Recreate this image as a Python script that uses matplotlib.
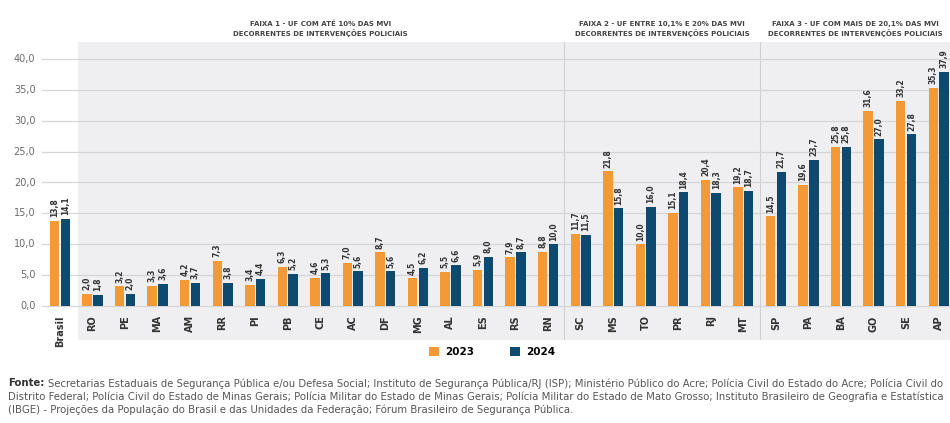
import matplotlib
matplotlib.use('Agg')
import matplotlib.pyplot as plt
import numpy as np

# Estados e valores (% das MVI decorrentes de intervenções policiais)
ufs = ['Brasil', 'RO', 'PE', 'MA', 'AM', 'RR', 'PI', 'PB', 'CE', 'AC', 'DF', 'MG', 'AL', 'ES',
       'RS', 'RN', 'SC', 'MS', 'TO', 'PR', 'RJ', 'MT', 'SP', 'PA', 'BA', 'GO', 'SE', 'AP']
v2023 = [13.8, 2.0, 3.2, 3.3, 4.2, 7.3, 3.4, 6.3, 4.6, 7.0, 8.7, 4.5, 5.5, 5.9,
         7.9, 8.8, 11.7, 21.8, 10.0, 15.1, 20.4, 19.2, 14.5, 19.6, 25.8, 31.6, 33.2, 35.3]
v2024 = [14.1, 1.8, 2.0, 3.6, 3.7, 3.8, 4.4, 5.2, 5.3, 5.6, 5.6, 6.2, 6.6, 8.0,
         8.7, 10.0, 11.5, 15.8, 16.0, 18.4, 18.3, 18.7, 21.7, 23.7, 25.8, 27.0, 27.8, 37.9]
yticks = [0, 5, 10, 15, 20, 25, 30, 35, 40]
faixas = ['FAIXA 1 - UF COM ATÉ 10% DAS MVI\nDECORRENTES DE INTERVENÇÕES POLICIAIS',
          'FAIXA 2 - UF ENTRE 10,1% E 20% DAS MVI\nDECORRENTES DE INTERVENÇÕES POLICIAIS',
          'FAIXA 3 - UF COM MAIS DE 20,1% DAS MVI\nDECORRENTES DE INTERVENÇÕES POLICIAIS']
fonte = ['Secretarias Estaduais de Segurança Pública e/ou Defesa Social; Instituto de Segurança Pública/RJ (ISP); '
         'Ministério Público do Acre; Polícia Civil do Estado do Acre; Polícia Civil do',
         'Distrito Federal; Polícia Civil do Estado de Minas Gerais; Polícia Militar do Estado de Minas Gerais; '
         'Polícia Militar do Estado de Mato Grosso; Instituto Brasileiro de Geografia e Estatística',
         '(IBGE) - Projeções da População do Brasil e das Unidades da Federação; Fórum Brasileiro de Segurança Pública.']

orange = '#F39A36'
navy = '#0E4A6F'
grey_txt = '#6B6B6B'

plt.rcParams['font.family'] = ['Liberation Sans Narrow', 'DejaVu Sans']

fig = plt.figure(figsize=(9.5, 4.23), dpi=100)
ax = fig.add_axes([42 / 950, 1 - 340 / 423, 1 - 42 / 950, 298 / 423])

x = np.arange(len(ufs))
w = 0.29
ax.set_xlim(-0.55, 27.35)
ax.set_ylim(-34 / 6.175, 40 + 17 / 6.175)

# fundo cinza das faixas
ax.axvspan(0.55, 27.35, color='#EFEFF1', zorder=0, lw=0)
for xd in [15.5, 21.5]:
    ax.axvline(xd, color='#D0D0D4', lw=0.8, zorder=1)

for yt in yticks:
    ax.axhline(yt, color='#D6D6D8', lw=0.9, zorder=1)
    ax.text(-0.75, yt, f'{yt:.1f}'.replace('.', ','), ha='right', va='center',
            fontsize=7, color=grey_txt, clip_on=False)

ax.bar(x - 0.165, v2023, w, color=orange, zorder=3, label='2023')
ax.bar(x + 0.165, v2024, w, color=navy, zorder=3, label='2024')

for xi, a, b in zip(x, v2023, v2024):
    ax.text(xi - 0.165, a + 0.6, f'{a:.1f}'.replace('.', ','), rotation=90, ha='center',
            va='bottom', fontsize=5.5, color='#333333', fontweight='bold', zorder=4)
    ax.text(xi + 0.165, b + 0.6, f'{b:.1f}'.replace('.', ','), rotation=90, ha='center',
            va='bottom', fontsize=5.5, color='#333333', fontweight='bold', zorder=4)

for xi, uf in zip(x, ufs):
    ax.text(xi, -1.5, uf, rotation=90, ha='center', va='top', fontsize=7,
            color='#333333', fontweight='bold')

for axis in ['top', 'bottom', 'left', 'right']:
    ax.spines[axis].set_visible(False)
ax.set_xticks([])
ax.set_yticks([])

# títulos das faixas
for xc, t in zip([8.0, 18.5, 24.45], faixas):
    ax.text(xc, 43.5, t, ha='center', va='bottom', fontsize=5.0, fontweight='bold',
            color='#444444', linespacing=1.3, clip_on=False)

# legenda
fig.legend(loc='center', bbox_to_anchor=(0.518, 1 - 352 / 423), ncol=2, frameon=False,
           handlelength=0.9, handleheight=0.9, columnspacing=3.5,
           handletextpad=0.6, prop={'weight': 'bold', 'size': 7.5})

# fonte
fig.canvas.draw()
t0 = fig.text(8 / 950, 1 - 378 / 423, 'Fonte:', fontsize=7.3, fontweight='bold',
              color='#333333', va='top')
bb = t0.get_window_extent(fig.canvas.get_renderer())
fig.text((bb.x1 + 4) / 950, 1 - 378 / 423, fonte[0], fontsize=7.3, color='#555555', va='top')
fig.text(8 / 950, 1 - 391 / 423, fonte[1], fontsize=7.3, color='#555555', va='top')
fig.text(8 / 950, 1 - 404 / 423, fonte[2], fontsize=7.3, color='#555555', va='top')

fig.savefig('out.png', dpi=100, facecolor='white')
